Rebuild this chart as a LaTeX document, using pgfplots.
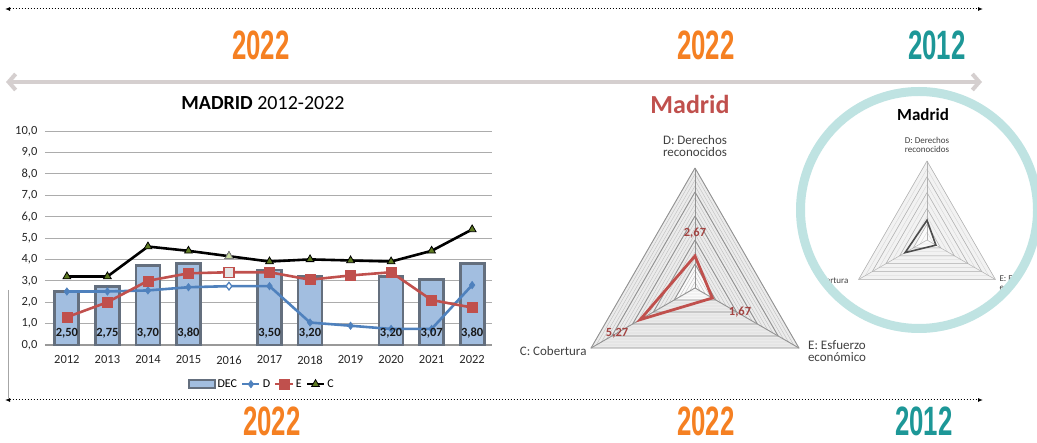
\documentclass[border=0pt]{standalone}
\usepackage{fontspec}
\setmainfont{Carlito}
\newfontfamily\yearfont{Liberation Sans}
\usepackage{graphicx}
\usepackage{pgfplots}
\pgfplotsset{compat=1.18}
\usepgfplotslibrary{polar}
\usetikzlibrary{arrows.meta}
\definecolor{barblue}{HTML}{A2BEE0}
\definecolor{barborder}{HTML}{646F7E}
\definecolor{dblue}{HTML}{4F81BD}
\definecolor{ered}{HTML}{C0504D}
\definecolor{cgreen}{HTML}{5E7A22}
\definecolor{cgreenlt}{HTML}{C9DD9E}
\definecolor{yorange}{HTML}{F58022}
\definecolor{yteal}{HTML}{1D9797}
\definecolor{circ}{HTML}{BFE3E2}
\definecolor{arrowgray}{HTML}{D5CFCF}
\definecolor{labgray}{HTML}{404040}
\newcommand\yearnum[1]{\scalebox{0.63}[1]{\yearfont\bfseries\fontsize{41}{41}\selectfont #1}}
\newcommand\fs[1]{\fontsize{#1}{#1}\selectfont}

\pgfplotstableread{
x D E C
0 2.50 1.30 3.20
1 2.50 2.00 3.20
2 2.55 3.00 4.60
3 2.70 3.35 4.40
4 2.75 3.40 4.15
5 2.75 3.40 3.90
6 1.05 3.05 4.00
7 0.90 3.25 3.95
8 0.75 3.40 3.90
9 0.75 2.10 4.40
10 2.80 1.75 5.40
}\lines

\begin{document}
\begin{tikzpicture}
\useasboundingbox (0,0) rectangle (1037pt,-443pt);

% top and bottom dotted timelines
\draw[black, line width=1pt, dotted, {Latex[length=5pt,width=4pt]}-{Latex[length=5pt,width=4pt]}] (5pt,-9pt) -- (983pt,-9pt);
\draw[black, line width=1pt, dotted, {Latex[length=5pt,width=4pt]}-{Latex[length=5pt,width=4pt]}] (5pt,-400pt) -- (983pt,-400pt);
\draw[gray!70, line width=0.8pt] (8pt,-290pt) -- (8pt,-398pt);
% gray arrow
\draw[arrowgray, line width=4pt, {Straight Barb[length=7pt,width=16pt]}-{Straight Barb[length=7pt,width=16pt]}] (6pt,-82pt) -- (982pt,-82pt);

% years
\node[text=yorange] at (261pt,-45pt) {\yearnum{2022}};
\node[text=yorange] at (706pt,-45pt) {\yearnum{2022}};
\node[text=yteal] at (937pt,-45pt) {\yearnum{2012}};
\node[text=yorange, inner sep=0pt] at (272pt,-421pt) {\yearnum{2022}};
\node[text=yorange, inner sep=0pt] at (706pt,-421pt) {\yearnum{2022}};
\node[text=yteal, inner sep=0pt] at (924pt,-421pt) {\yearnum{2012}};

% main chart title
\node at (263pt,-103pt) {\fs{20}\textbf{MADRID} 2012-2022};

\begin{axis}[
  at={(45pt,-345pt)}, anchor=south west,
  scale only axis, width=447pt, height=214pt,
  xmin=-0.54, xmax=10.49, ymin=0, ymax=10,
  ytick={0,1,...,10},
  xtick={0,...,10},
  xticklabels={2012,2013,2014,2015,2016,2017,2018,2019,2020,2021,2022},
  axis x line=bottom, axis y line=left,
  y axis line style={draw=none},
  x axis line style={-, gray!80, line width=1.2pt},
  tick style={draw=none},
  ymajorgrids, grid style={gray!65, line width=0.8pt},
  /pgf/number format/fixed, /pgf/number format/fixed zerofill,
  /pgf/number format/precision=1, /pgf/number format/use comma,
  /pgf/number format/assume math mode=true,
  ticklabel style={font=\fs{12.5}, text=black!85},
  xticklabel style={yshift=-5pt},
  yticklabel style={xshift=-2pt},
  legend style={at={(0.485,-0.183)}, anchor=center, legend columns=4, draw=none, fill=none, font=\fs{12},
     /tikz/every even column/.append style={column sep=2pt},
     /tikz/every odd column/.append style={column sep=0pt}},
  legend cell align=left,
  clip=false,
]
\addplot[ybar, bar width=24pt, fill=barblue, draw=barborder, line width=2.8pt,
  legend image code/.code={\draw[fill=barblue,draw=barborder,line width=1.8pt] (0pt,-4pt) rectangle (26pt,4pt);}]
  coordinates {(0,2.50) (1,2.75) (2,3.70) (3,3.80) (5,3.50) (6,3.20) (8,3.20) (9,3.07) (10,3.80)};
\addlegendentry{DEC}
\addplot[dblue, line width=2.6pt, mark=diamond*, mark size=3.8pt, mark options={fill=dblue, line width=0.5pt}] table[x=x, y=D] {\lines};
\addlegendentry{D}
\addplot[ered, line width=2.6pt, mark=square*, mark size=5pt, mark options={fill=ered, line width=0.5pt}] table[x=x, y=E] {\lines};
\addlegendentry{E}
\addplot[black, line width=2.6pt, mark=triangle*, mark size=4.5pt, mark options={fill=cgreen, draw=black, line width=0.8pt}] table[x=x, y=C] {\lines};
\addlegendentry{C}
% 2016 special markers
\addplot[forget plot, only marks, mark=diamond*, mark size=3.8pt, mark options={fill=white, draw=dblue, line width=1.2pt}] coordinates {(4,2.75)};
\addplot[forget plot, only marks, mark=square*, mark size=5pt, mark options={fill=gray!20, draw=ered, line width=1.2pt}] coordinates {(4,3.40)};
\addplot[forget plot, only marks, mark=triangle*, mark size=4.5pt, mark options={fill=cgreenlt, draw=black!50, line width=0.8pt}] coordinates {(4,4.15)};
% bar value labels
\addplot[forget plot, only marks, mark=*, mark size=0pt, mark options={draw=none, fill=none},
  point meta=explicit symbolic, nodes near coords, nodes near coords align=center,
  every node near coord/.append style={font=\fs{12.5}\bfseries, text=black!90, anchor=center}]
  coordinates {(0,0.56)[2,50] (1,0.56)[2,75] (2,0.56)[3,70] (3,0.56)[3,80] (5,0.56)[3,50] (6,0.56)[3,20] (8,0.56)[3,20] (9,0.56)[3,07] (10,0.56)[3,80]};
\end{axis}

% ---------- radar 2022 ----------
\node[text=ered] at (690pt,-104pt) {\fs{26}\textbf{Madrid}};
\node[text=labgray, align=center, font=\fs{13}] at (695pt,-146pt) {D: Derechos\\[-1pt]reconocidos};
\node[text=labgray, anchor=east, font=\fs{13}] at (590pt,-351pt) {C: Cobertura};
\node[text=labgray, align=center, font=\fs{13}] at (837pt,-351pt) {E: Esfuerzo\\[-1pt]económico};
\begin{polaraxis}[
  at={(695pt,-288pt)}, anchor=center,
  scale only axis, width=240pt, height=240pt,
  ymin=0, ymax=10, xtick=\empty, ytick=\empty,
  axis line style={draw=none}, clip=false,
]
\addplot[fill=gray!16, draw=none] coordinates {(90,10) (210,10) (330,10) (90,10)};
\addplot[fill=gray!4, draw=none] coordinates {(90,2) (210,2) (330,2) (90,2)};
\pgfplotsinvokeforeach{0.5,1,...,10}{
  \addplot[gray!50, line width=0.4pt] coordinates {(90,#1) (210,#1) (330,#1) (90,#1)};
}
\pgfplotsinvokeforeach{2,4,...,10}{
  \addplot[gray!85, line width=0.9pt] coordinates {(90,#1) (210,#1) (330,#1) (90,#1)};
}
\addplot[gray!85, line width=0.9pt] coordinates {(90,0) (90,10)};
\addplot[gray!85, line width=0.9pt] coordinates {(210,0) (210,10)};
\addplot[gray!85, line width=0.9pt] coordinates {(330,0) (330,10)};
\addplot[ered, line width=2.8pt, line join=miter] coordinates {(90,2.67) (210,5.27) (330,1.67) (90,2.67) (210,5.27)};
\node[text=ered!85!black, font=\fs{12.5}\bfseries] at (axis cs:90,4.6) {2,67};
\node[text=ered!85!black, font=\fs{12.5}\bfseries] at (axis cs:332,4.25) {1,67};
\node[text=ered!85!black, font=\fs{12.5}\bfseries] at (axis cs:210,7.5) {5,27};
\end{polaraxis}

% ---------- radar 2012 in circle ----------
\begin{scope}
\clip (919pt,-210pt) circle (114pt);
\fill[white] (919pt,-210pt) circle (114pt);
\node[text=black] at (923pt,-115pt) {\fs{17}\textbf{Madrid}};
\node[text=labgray, align=center, font=\fs{9}] at (927pt,-145pt) {D: Derechos\\[0pt]reconocidos};
\node[text=labgray, anchor=east, font=\fs{9}] at (852pt,-280pt) {C: Cobertura};
\node[text=labgray, align=left, anchor=west, font=\fs{9}] at (996pt,-283pt) {E: Esfuerzo\\[0pt]económico};
\begin{polaraxis}[
  at={(927pt,-240pt)}, anchor=center,
  scale only axis, width=158pt, height=158pt,
  ymin=0, ymax=10, xtick=\empty, ytick=\empty,
  axis line style={draw=none}, clip=false,
]
\addplot[fill=gray!10, draw=none] coordinates {(90,10) (210,10) (330,10) (90,10)};
\addplot[fill=gray!3, draw=none] coordinates {(90,2) (210,2) (330,2) (90,2)};
\pgfplotsinvokeforeach{1,2,...,10}{
  \addplot[gray!35, line width=0.3pt] coordinates {(90,#1) (210,#1) (330,#1) (90,#1)};
}
\pgfplotsinvokeforeach{2,4,...,10}{
  \addplot[gray!60, line width=0.5pt] coordinates {(90,#1) (210,#1) (330,#1) (90,#1)};
}
\addplot[gray!60, line width=0.5pt] coordinates {(90,0) (90,10)};
\addplot[gray!60, line width=0.5pt] coordinates {(210,0) (210,10)};
\addplot[gray!60, line width=0.5pt] coordinates {(330,0) (330,10)};
\addplot[black!70, line width=1.6pt, line join=miter] coordinates {(90,2.5) (210,3.2) (330,1.3) (90,2.5) (210,3.2)};
\end{polaraxis}
\end{scope}
\draw[circ, line width=9pt] (919pt,-210pt) circle (118.5pt);
\end{tikzpicture}
\end{document}
